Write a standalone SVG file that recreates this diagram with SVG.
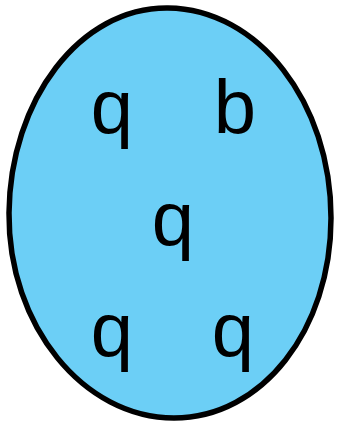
<svg xmlns="http://www.w3.org/2000/svg" width="340" height="425" viewBox="0 0 340 425">
<style>
.blob{fill:#6ccff6;stroke:#000;stroke-width:5.5;stroke-linejoin:round}
.lbl{font-family:"Liberation Sans",Arial,sans-serif;font-size:76px;fill:#000;text-anchor:middle}
</style>
<rect width="340" height="425" fill="#fff"/>
<g id="set">
<path class="blob" d="M168,8 C258,9 331,102 331,218 C331,330 262,418 174,418 C84,418 8,326 9,213 C10,100 80,7 168,8 Z"/>
</g>
<g id="q1"><text class="lbl" x="112" y="133">q</text></g>
<g id="b1"><text class="lbl" x="235" y="133">b</text></g>
<g id="q2"><text class="lbl" x="173" y="245">q</text></g>
<g id="q3"><text class="lbl" x="112" y="356">q</text></g>
<g id="q4"><text class="lbl" x="233" y="356">q</text></g>
</svg>
